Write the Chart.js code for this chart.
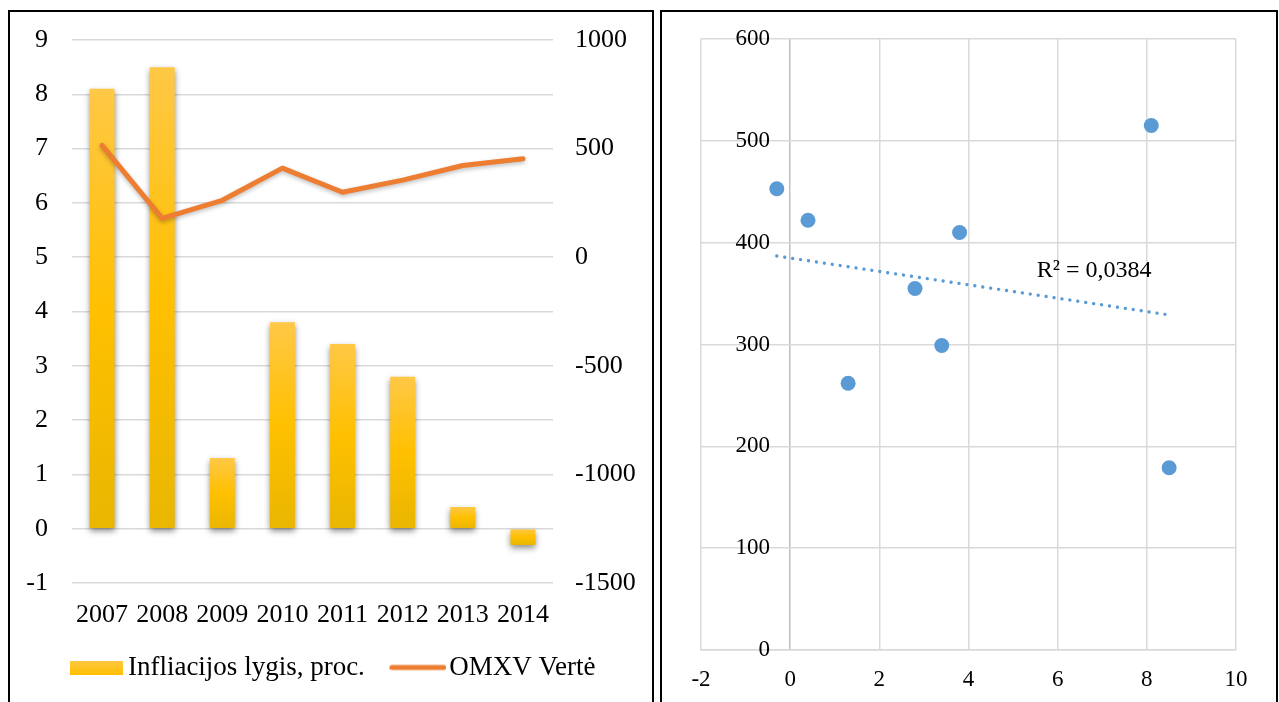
<!DOCTYPE html>
<html lang="lt">
<head>
<meta charset="utf-8">
<title>Infliacija ir OMXV</title>
<script src="https://cdn.jsdelivr.net/npm/chart.js@4.4.1/dist/chart.umd.min.js"></script>
<style>
  html, body { margin: 0; padding: 0; background: #fff; overflow: hidden; }
  .panel { position: absolute; top: 10px; height: 700px; border: 2px solid #000; background: #fff; }
  #leftPanel { left: 8px; width: 642px; }
  #rightPanel { left: 660px; width: 614px; }
  .panel canvas { position: absolute; left: 0; top: 0; }
</style>
</head>
<body>
<div class="panel" id="leftPanel"><canvas id="comboChart" width="642" height="690"></canvas></div>
<div class="panel" id="rightPanel"><canvas id="scatterChart" width="614" height="690"></canvas></div>
<script>
// Years and yearly values
const years = ['2007', '2008', '2009', '2010', '2011', '2012', '2013', '2014'];
const inflation = [8.1, 8.5, 1.3, 3.8, 3.4, 2.8, 0.4, -0.3];   // Infliacijos lygis, proc.
const omxv = [515, 179, 262, 410, 299, 355, 422, 453];          // OMXV Vertė

// Axis tick labels
const inflationTicks = [-1, 0, 1, 2, 3, 4, 5, 6, 7, 8, 9];
const omxvTicks = [-1500, -1000, -500, 0, 500, 1000];
const scatterXTicks = [-2, 0, 2, 4, 6, 8, 10];
const scatterYTicks = [0, 100, 200, 300, 400, 500, 600];
const r2Text = 'R² = 0,0384';

const SERIF = "'Liberation Serif', 'Times New Roman', serif";
const GRID = '#D9D9D9';
const AXIS = '#BFBFBF';
const GOLD = '#FFC000';
const ORANGE = '#ED7D31';
const BLUE = '#5B9BD5';

Chart.defaults.font.family = SERIF;
Chart.defaults.color = '#000';
Chart.defaults.animation = false;

const setTicks = list => scale => { scale.ticks = list.map(v => ({ value: v })); };
const plainLabel = v => String(v);
// Tick labels stay inside the fixed plot frame, so no extra edge padding is reserved
const noEdgePadding = s => { s.paddingTop = 0; s.paddingBottom = 0; s.paddingLeft = 0; s.paddingRight = 0; };

// Vertical gold gradient for each bar, from its own top to its own bottom
function barFill(ctx) {
  const chart = ctx.chart;
  const y = chart.scales && chart.scales.y;
  if (!chart.chartArea || !y || typeof ctx.raw !== 'number') return GOLD;
  const v = ctx.raw;
  const top = y.getPixelForValue(Math.max(v, 0));
  const bottom = y.getPixelForValue(Math.min(v, 0));
  if (!isFinite(top) || !isFinite(bottom) || bottom - top < 1) return GOLD;
  const g = chart.ctx.createLinearGradient(0, top, 0, bottom);
  g.addColorStop(0, '#FFC846');
  g.addColorStop(0.5, '#FFC000');
  g.addColorStop(1, '#E9B600');
  return g;
}

// Legend swatches drawn on small canvases
function legendSwatch(kind) {
  const c = document.createElement('canvas');
  if (kind === 'bar') {
    c.width = 61; c.height = 14;
    const x = c.getContext('2d');
    const g = x.createLinearGradient(0, 0, 0, 14);
    g.addColorStop(0, '#FFC846');
    g.addColorStop(1, '#FFC000');
    x.fillStyle = g;
    x.fillRect(8, 0, 53, 14);
  } else {
    c.width = 65; c.height = 8;
    const x = c.getContext('2d');
    x.strokeStyle = ORANGE;
    x.lineWidth = 5;
    x.lineCap = 'round';
    x.beginPath();
    x.moveTo(10.5, 4);
    x.lineTo(62.5, 4);
    x.stroke();
  }
  return c;
}
const swatches = [legendSwatch('bar'), legendSwatch('line')];

// Soft drop shadow under bars and the line
const softShadow = {
  id: 'softShadow',
  beforeDatasetDraw(chart, args, opts) {
    const cfg = opts[args.meta.type];
    if (!cfg) return;
    const c = chart.ctx;
    c.save();
    c.shadowColor = cfg.color;
    c.shadowBlur = cfg.blur;
    c.shadowOffsetX = cfg.x || 0;
    c.shadowOffsetY = cfg.y || 0;
  },
  afterDatasetDraw(chart, args, opts) {
    if (opts[args.meta.type]) chart.ctx.restore();
  }
};

new Chart(document.getElementById('comboChart'), {
  data: {
    labels: years,
    datasets: [
      {
        type: 'bar',
        label: 'Infliacijos lygis, proc.',
        data: inflation,
        yAxisID: 'y',
        backgroundColor: barFill,
        borderWidth: 0,
        barPercentage: 0.415,
        categoryPercentage: 1,
        order: 2
      },
      {
        type: 'line',
        label: 'OMXV Vertė',
        data: omxv,
        yAxisID: 'y2',
        borderColor: ORANGE,
        backgroundColor: ORANGE,
        borderWidth: 5,
        borderJoinStyle: 'round',
        borderCapStyle: 'round',
        pointRadius: 0,
        tension: 0,
        order: 1
      }
    ]
  },
  options: {
    responsive: false,
    layout: { padding: { left: 4, right: 0, top: 28, bottom: 11 } },
    scales: {
      x: {
        grid: { display: false, drawTicks: false },
        border: { display: false },
        ticks: { font: { size: 26 }, padding: 17, maxRotation: 0 },
        afterFit: s => { noEdgePadding(s); s.height = 44; }
      },
      y: {
        position: 'left',
        min: -1, max: 9,
        afterBuildTicks: setTicks(inflationTicks),
        grid: { color: GRID, lineWidth: 1.5, drawTicks: false },
        border: { display: false },
        ticks: { font: { size: 26 }, padding: 24, callback: plainLabel },
        afterFit: s => { noEdgePadding(s); s.width = 58; }
      },
      y2: {
        position: 'right',
        min: -1500, max: 1000,
        afterBuildTicks: setTicks(omxvTicks),
        grid: { display: false, drawTicks: false },
        border: { display: false },
        ticks: { font: { size: 26 }, padding: 22, callback: plainLabel },
        afterFit: s => { noEdgePadding(s); s.width = 99; }
      }
    },
    plugins: {
      tooltip: { enabled: false },
      legend: {
        position: 'bottom',
        labels: {
          font: { size: 27 },
          color: '#000',
          usePointStyle: true,
          pointStyleWidth: 44,
          padding: 27,
          generateLabels: chart => chart.data.datasets.map((ds, i) => ({
            text: ds.label,
            pointStyle: swatches[i],
            datasetIndex: i,
            hidden: false,
            lineWidth: 0,
            strokeStyle: 'rgba(0,0,0,0)',
            fillStyle: 'rgba(0,0,0,0)',
            fontColor: '#000'
          }))
        }
      },
      softShadow: {
        bar: { color: 'rgba(0,0,0,0.45)', blur: 6, y: 3 },
        line: { color: 'rgba(0,0,0,0.25)', blur: 4, y: 2 }
      }
    }
  },
  plugins: [softShadow]
});

// Linear trend of OMXV against inflation, drawn across the observed range
const n = inflation.length;
const mx = inflation.reduce((a, b) => a + b, 0) / n;
const my = omxv.reduce((a, b) => a + b, 0) / n;
let sxy = 0, sxx = 0;
for (let i = 0; i < n; i++) {
  sxy += (inflation[i] - mx) * (omxv[i] - my);
  sxx += (inflation[i] - mx) * (inflation[i] - mx);
}
const slope = sxy / sxx;
const intercept = my - slope * mx;
const xMin = Math.min(...inflation);
const xMax = Math.max(...inflation);
const trend = [xMin, xMax].map(x => ({ x, y: intercept + slope * x }));
const points = inflation.map((x, i) => ({ x, y: omxv[i] }));

// R² caption placed in data space
const r2Label = {
  id: 'r2Label',
  afterDatasetsDraw(chart) {
    const { ctx, scales } = chart;
    ctx.save();
    ctx.font = '24px ' + SERIF;
    ctx.fillStyle = '#000';
    ctx.textAlign = 'left';
    ctx.textBaseline = 'middle';
    ctx.fillText(r2Text, scales.x.getPixelForValue(5.53), scales.y.getPixelForValue(372));
    ctx.restore();
  }
};

new Chart(document.getElementById('scatterChart'), {
  type: 'scatter',
  data: {
    datasets: [
      {
        label: 'OMXV',
        data: points,
        backgroundColor: BLUE,
        borderWidth: 0,
        pointRadius: 7.5,
        order: 1
      },
      {
        type: 'line',
        label: 'Trend',
        data: trend,
        borderColor: BLUE,
        borderWidth: 3.4,
        borderDash: [0.01, 8],
        borderCapStyle: 'round',
        pointRadius: 0,
        fill: false,
        order: 2
      }
    ]
  },
  options: {
    responsive: false,
    layout: { padding: { left: 39, right: 40, top: 27, bottom: 0 } },
    scales: {
      x: {
        type: 'linear',
        position: 'bottom',
        min: -2, max: 10,
        afterBuildTicks: setTicks(scatterXTicks),
        // the x = 0 line doubles as the vertical axis, drawn a shade darker
        grid: {
          color: c => (c.tick && c.tick.value === 0 ? AXIS : GRID),
          lineWidth: 1.5,
          drawTicks: false
        },
        border: { color: GRID, width: 1.5 },
        ticks: { font: { size: 23 }, padding: 16, callback: plainLabel },
        afterFit: s => { noEdgePadding(s); s.height = 52; }
      },
      y: {
        type: 'linear',
        // value labels sit just left of the x = 0 line
        position: { x: -0.45 },
        min: 0, max: 600,
        afterBuildTicks: setTicks(scatterYTicks),
        grid: { color: GRID, lineWidth: 1.5, drawTicks: false },
        border: { display: false },
        ticks: { font: { size: 23 }, padding: 0, callback: plainLabel },
        afterFit: noEdgePadding
      }
    },
    plugins: {
      legend: { display: false },
      tooltip: { enabled: false }
    }
  },
  plugins: [r2Label]
});
</script>
</body>
</html>
